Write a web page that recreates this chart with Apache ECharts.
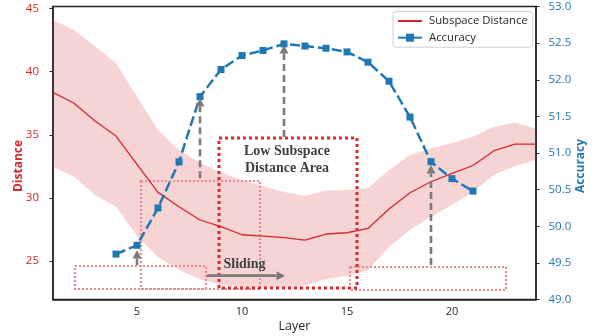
<!DOCTYPE html>
<html>
<head>
<meta charset="utf-8">
<script src="https://cdn.jsdelivr.net/npm/echarts@6/dist/echarts.min.js"></script>
<style>
  html, body { margin: 0; padding: 0; background: #fff; }
  #chart { width: 597px; height: 336px; }
</style>
</head>
<body>
<div id="chart"></div>
<script>
// Subspace distance per layer (mean and spread band)
const layers = [1, 2, 3, 4, 5, 6, 7, 8, 9, 10, 11, 12, 13, 14, 15, 16, 17, 18, 19, 20, 21, 22, 23, 24];
const distanceMean = [38.37, 37.50, 36.09, 34.90, 32.66, 30.44, 29.30, 28.25, 27.72, 27.08, 26.98, 26.86,
                      26.66, 27.14, 27.24, 27.58, 29.12, 30.41, 31.28, 31.95, 32.57, 33.74, 34.27, 34.27];
const distanceUpper = [44.10, 43.30, 42.00, 40.67, 38.01, 35.38, 33.80, 32.77, 32.01, 31.42, 30.94, 30.47,
                       30.15, 30.59, 30.63, 30.76, 32.21, 33.40, 33.93, 34.35, 34.85, 35.64, 35.96, 35.51];
const distanceLower = [32.47, 31.68, 30.23, 29.30, 26.98, 25.32, 24.29, 23.57, 23.10, 22.94, 22.92, 22.92,
                       23.06, 23.57, 23.81, 24.29, 26.11, 27.46, 28.51, 29.44, 30.49, 31.81, 32.53, 33.00];

// Accuracy when the window starts at each layer
const accuracyLayers = [4, 5, 6, 7, 8, 9, 10, 11, 12, 13, 14, 15, 16, 17, 18, 19, 20, 21];
const accuracy = [49.62, 49.74, 50.25, 50.88, 51.77, 52.14, 52.33, 52.40, 52.49, 52.46, 52.43, 52.38,
                  52.24, 51.98, 51.49, 50.88, 50.65, 50.48];

// Axis ticks
const layerTicks = [5, 10, 15, 20];
const distanceTicks = [25, 30, 35, 40, 45];
const accuracyTicks = [49.0, 49.5, 50.0, 50.5, 51.0, 51.5, 52.0, 52.5, 53.0];

// Annotations, in layer / distance units: [layerStart, distanceBottom, layerEnd, distanceTop]
const slidingWindows = [
  [2.05, 22.78, 8.27, 24.60],
  [5.19, 22.78, 10.86, 31.36],
  [15.14, 22.72, 22.57, 24.55]
];
const lowDistanceArea = [[8.90, 22.84, 15.48, 34.72]];
// Probe arrows: [layer, distanceFrom, layer, distanceTo]
const probeArrows = [
  [5, 24.68, 5, 25.87],
  [8, 31.55, 8, 37.91],
  [12, 34.83, 12, 42.12],
  [19, 24.68, 19, 32.61]
];
const slideArrow = [[8.33, 23.84, 12.05, 23.84]];
const noteText = ['Low Subspace\nDistance Area', 'Sliding'];
const noteLayer = [12.14, 10.12];
const noteDistance = [33.0, 24.76];

const RED = '#d62728';
const BLUE = '#1f77b4';
const INK = '#262626';
const SANS = '"Open Sans", "DejaVu Sans", sans-serif';
const SERIF = '"Liberation Serif", "DejaVu Serif", serif';

function renderBand(params, api) {
  if (params.dataIndex !== 0) return null;
  const pts = [];
  for (let i = 0; i < layers.length; i++) pts.push(api.coord([layers[i], distanceUpper[i]]));
  for (let i = layers.length - 1; i >= 0; i--) pts.push(api.coord([layers[i], distanceLower[i]]));
  return { type: 'polygon', shape: { points: pts }, style: { fill: 'rgba(214,39,40,0.2)' }, silent: true };
}

function boxRenderer(stroke, width, dash) {
  return function (params, api) {
    const a = api.coord([api.value(0), api.value(1)]);
    const b = api.coord([api.value(2), api.value(3)]);
    // snap to the pixel grid so the dotted outline stays crisp
    const x0 = Math.round(Math.min(a[0], b[0])), x1 = Math.round(Math.max(a[0], b[0]));
    const y0 = Math.round(Math.min(a[1], b[1])), y1 = Math.round(Math.max(a[1], b[1]));
    return {
      type: 'rect',
      shape: { x: x0, y: y0, width: x1 - x0, height: y1 - y0 },
      style: { fill: 'none', stroke: stroke, lineWidth: width, lineDash: dash },
      silent: true
    };
  };
}

function arrowRenderer(color, width, dash) {
  return function (params, api) {
    const a = api.coord([api.value(0), api.value(1)]);
    const b = api.coord([api.value(2), api.value(3)]);
    const dx = b[0] - a[0], dy = b[1] - a[1];
    const len = Math.sqrt(dx * dx + dy * dy) || 1;
    const ux = dx / len, uy = dy / len;
    const head = 8.5, hw = 4.5;
    const bx = b[0] - ux * head, by = b[1] - uy * head;
    const nx = -uy, ny = ux;
    return {
      type: 'group',
      silent: true,
      children: [
        { type: 'line', shape: { x1: a[0], y1: a[1], x2: bx, y2: by },
          style: { stroke: color, lineWidth: width, lineDash: dash } },
        { type: 'polygon', shape: { points: [[b[0], b[1]], [bx + nx * hw, by + ny * hw], [bx - nx * hw, by - ny * hw]] },
          style: { fill: color } }
      ]
    };
  };
}

function renderNote(params, api) {
  const p = api.coord([api.value(0), api.value(1)]);
  return {
    type: 'text',
    silent: true,
    style: {
      text: noteText[params.dataIndex],
      x: p[0], y: p[1],
      align: 'center', verticalAlign: 'middle',
      fontFamily: SERIF, fontWeight: 'bold', fontSize: 14, lineHeight: 17,
      fill: '#404040'
    }
  };
}

const chart = echarts.init(document.getElementById('chart'), null, { renderer: 'canvas' });

chart.setOption({
  animation: false,
  backgroundColor: '#fff',
  grid: {
    left: 53, right: 61, top: 6.5, bottom: 36.5,
    outerBoundsMode: 'none',
    show: true, borderColor: INK, borderWidth: 1.5, backgroundColor: 'transparent'
  },
  legend: {
    data: [
      { name: 'Subspace Distance', itemStyle: { opacity: 0 } },
      { name: 'Accuracy' }
    ],
    orient: 'vertical',
    left: 393, top: 11.5,
    padding: [4, 5, 4, 4],
    itemWidth: 24, itemHeight: 10, itemGap: 5.7,
    backgroundColor: 'rgba(255,255,255,0.85)',
    borderColor: '#d0d0d0', borderWidth: 1, borderRadius: 3,
    lineStyle: { type: 'solid' },
    textStyle: { fontFamily: SANS, fontSize: 11.3, color: INK, padding: [0, 0, 0, 2] }
  },
  xAxis: {
    type: 'value', min: 1, max: 24,
    name: 'Layer', nameLocation: 'middle', nameGap: 20, nameMoveOverlap: false,
    nameTextStyle: { fontFamily: SANS, fontSize: 12.5, color: INK },
    axisLine: { show: true, lineStyle: { color: INK, width: 1.5 } },
    axisTick: { show: false },
    axisLabel: { customValues: layerTicks, margin: 7, fontFamily: SANS, fontSize: 11, color: INK },
    splitLine: { show: false }
  },
  yAxis: [
    {
      type: 'value', min: 21.95, max: 45.17, position: 'left',
      name: 'Distance', nameLocation: 'middle', nameRotate: 90, nameGap: 28, nameMoveOverlap: false,
      nameTextStyle: { fontFamily: SANS, fontSize: 12, fontWeight: 'bold', color: RED, padding: [0, 26, 0, 0] },
      axisLine: { show: true, onZero: false, lineStyle: { color: INK, width: 1.5 } },
      axisTick: { show: true, customValues: distanceTicks, length: 3.5, lineStyle: { color: INK, width: 1 } },
      axisLabel: { customValues: distanceTicks, margin: 14, fontFamily: SANS, fontSize: 11.5, color: RED },
      splitLine: { show: false }
    },
    {
      type: 'value', min: 49, max: 53, position: 'right',
      name: 'Accuracy', nameLocation: 'middle', nameRotate: 90, nameGap: 39, nameMoveOverlap: false,
      nameTextStyle: { fontFamily: SANS, fontSize: 12, fontWeight: 'bold', color: BLUE, padding: [0, 26, 0, 0] },
      axisLine: { show: true, onZero: false, lineStyle: { color: INK, width: 1.5 } },
      axisTick: { show: true, customValues: accuracyTicks, length: 3.5, lineStyle: { color: INK, width: 1 } },
      axisLabel: { customValues: accuracyTicks, margin: 12.5, fontFamily: SANS, fontSize: 11.5, color: BLUE,
                   formatter: v => v.toFixed(1) },
      splitLine: { show: false }
    }
  ],
  series: [
    {
      name: 'band', type: 'custom', xAxisIndex: 0, yAxisIndex: 0, z: 1,
      data: layers.map((l, i) => [l, distanceLower[i], distanceUpper[i]]),
      encode: { x: 0, y: [1, 2] },
      renderItem: renderBand
    },
    {
      name: 'windows', type: 'custom', xAxisIndex: 0, yAxisIndex: 0, z: 3,
      data: slidingWindows, encode: { x: [0, 2], y: [1, 3] },
      renderItem: boxRenderer('#ec8a91', 2.2, [2, 2])
    },
    {
      name: 'Subspace Distance', type: 'line', xAxisIndex: 0, yAxisIndex: 0, z: 4,
      data: layers.map((l, i) => [l, distanceMean[i]]),
      symbol: 'none',
      lineStyle: { color: RED, width: 1.3 },
      itemStyle: { color: RED }
    },
    {
      name: 'lowArea', type: 'custom', xAxisIndex: 0, yAxisIndex: 0, z: 5,
      data: lowDistanceArea, encode: { x: [0, 2], y: [1, 3] },
      renderItem: boxRenderer('#dc2a2a', 3, [3, 3])
    },
    {
      name: 'Accuracy', type: 'line', xAxisIndex: 0, yAxisIndex: 1, z: 6,
      data: accuracyLayers.map((l, i) => [l, accuracy[i]]),
      symbol: 'rect', symbolSize: 7,
      lineStyle: { color: BLUE, width: 2.5, type: [10, 4] },
      itemStyle: { color: BLUE }
    },
    {
      name: 'probes', type: 'custom', xAxisIndex: 0, yAxisIndex: 0, z: 7,
      data: probeArrows, encode: { x: [0, 2], y: [1, 3] },
      renderItem: arrowRenderer('#7a7a7a', 2.6, [7, 4])
    },
    {
      name: 'slide', type: 'custom', xAxisIndex: 0, yAxisIndex: 0, z: 7,
      data: slideArrow, encode: { x: [0, 2], y: [1, 3] },
      renderItem: arrowRenderer('#7a7a7a', 2.6, null)
    },
    {
      name: 'notes', type: 'custom', xAxisIndex: 0, yAxisIndex: 0, z: 8,
      data: noteLayer.map((l, i) => [l, noteDistance[i]]), encode: { x: 0, y: 1 },
      renderItem: renderNote
    }
  ]
});
</script>
</body>
</html>
